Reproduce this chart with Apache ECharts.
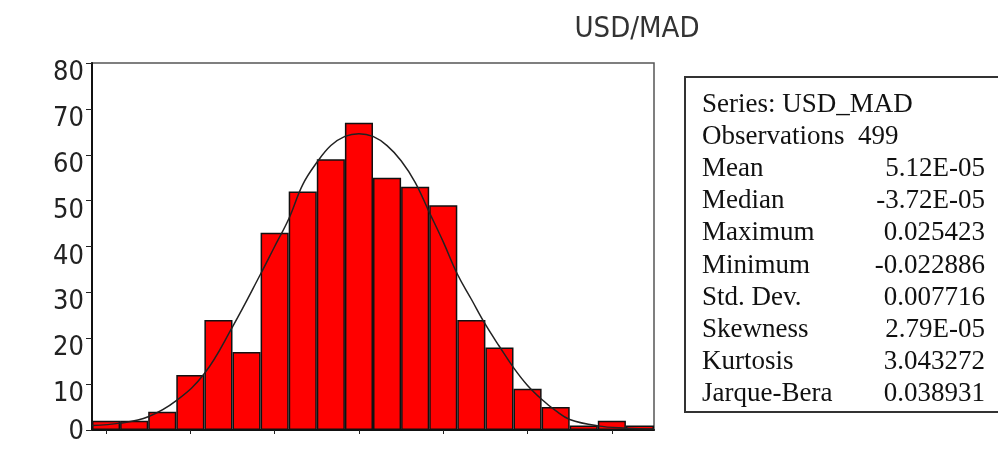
<!DOCTYPE html>
<html><head><meta charset="utf-8">
<script src="https://cdn.jsdelivr.net/npm/echarts@6/dist/echarts.min.js"></script>
<style>html,body{margin:0;padding:0;background:#fff}#c{width:998px;height:461px}</style>
</head><body><div id="c"></div>
<script>
// Histogram bins (bin centres of USD/MAD returns) and counts
const binCenters = ['-0.02375','-0.02125','-0.01875','-0.01625','-0.01375','-0.01125','-0.00875','-0.00625','-0.00375','-0.00125',
                    '0.00125','0.00375','0.00625','0.00875','0.01125','0.01375','0.01625','0.01875','0.02125','0.02375'];
const counts = [2,2,4,12,24,17,43,52,59,67,55,53,49,24,18,9,5,1,2,1];

// Fitted normal curve
const curveX = [-0.025,-0.0225,-0.02,-0.0175,-0.015,-0.0125,-0.01,-0.00875,-0.0075,-0.00625,-0.005,-0.00375,-0.0025,-0.00125,0,
                0.00125,0.0025,0.00375,0.005,0.00625,0.0075,0.00875,0.01,0.01125,0.0125,0.01375,0.015,0.01625,0.0175,0.02,0.0225,0.025];
const curveY = [1.0,1.5,2.9,6.4,12.3,22.5,34,40,46,53.5,58.3,62,64,64.6,64,
                62,58.7,54,47.5,41,34,28.5,23,18.2,13.6,9.7,6.7,4.2,2.3,0.9,0.4,0.2];

// Y tick range
const yMin = 0, yMax = 80, yStep = 10;

// Statistics panel
const chartTitle = 'USD/MAD';
const statLabels = ['Series: USD_MAD','Observations  499','Mean','Median','Maximum','Minimum','Std. Dev.','Skewness','Kurtosis','Jarque-Bera'];
const statValues = ['','','5.12E-05','-3.72E-05','0.025423','-0.022886','0.007716','2.79E-05','3.043272','0.038931'];

const sansNarrow = "'Liberation Sans Narrow','Arial Narrow','DejaVu Sans Condensed','Liberation Sans',sans-serif";
const serif = "'Liberation Serif','Times New Roman','DejaVu Serif',serif";

const chart = echarts.init(document.getElementById('c'), null, {renderer:'canvas'});

const graphics = [
  {type:'rect', shape:{x:685, y:77, width:400, height:335}, style:{fill:'#fff', stroke:'#333', lineWidth:2}, z:10}
];
statLabels.forEach((t,i)=>{
  graphics.push({type:'text', x:702, y:105+i*32.1, z:11,
    style:{text:t, fill:'#111', font:"27px "+serif, textAlign:'left', textVerticalAlign:'middle'}});
  if (statValues[i]) graphics.push({type:'text', x:985, y:105+i*32.1, z:11,
    style:{text:statValues[i], fill:'#111', font:"27px "+serif, textAlign:'right', textVerticalAlign:'middle'}});
});
graphics.push({type:'text', x:637, y:29, z:11,
  style:{text:chartTitle, fill:'#333', font:"29px "+sansNarrow, textAlign:'center', textVerticalAlign:'middle'}});

chart.setOption({
  animation:false,
  backgroundColor:'#fff',
  grid:{left:92, right:344, top:63, bottom:31, show:true, borderColor:'#555', borderWidth:1.5, containLabel:false},
  xAxis:[
    {type:'category', data:binCenters, boundaryGap:true,
     axisLine:{show:true, onZero:false, lineStyle:{color:'#111', width:2}},
     axisTick:{show:true, alignWithLabel:true, length:4, lineStyle:{color:'#222', width:1}},
     axisLabel:{show:false}, splitLine:{show:false}},
    {type:'value', min:-0.025, max:0.025, show:false, position:'bottom',
     axisLine:{show:false, onZero:false}, splitLine:{show:false}}
  ],
  yAxis:{type:'value', min:yMin, max:yMax, interval:yStep,
     axisLine:{show:true, onZero:false, lineStyle:{color:'#111', width:2}},
     axisTick:{show:true, inside:false, length:6, lineStyle:{color:'#222', width:1}},
     splitLine:{show:false},
     axisLabel:{margin:8, fontFamily:sansNarrow, fontSize:27, color:'#222',
       formatter:v=> v===0 ? '{z|'+v+'}' : '{n|'+v+'}',
       rich:{n:{fontFamily:sansNarrow, fontSize:27, color:'#222', padding:[20,0,0,0]},
             z:{fontFamily:sansNarrow, fontSize:27, color:'#222', padding:[4,0,0,0]}}}},
  series:[
    {type:'bar', xAxisIndex:0, data:counts, barCategoryGap:'0%',
     itemStyle:{color:'#ff0000', borderColor:'#111', borderWidth:1.5}},
    {type:'line', xAxisIndex:1, data:curveX.map((x,i)=>[x,curveY[i]]), smooth:0.4, symbol:'none',
     lineStyle:{color:'#222', width:1.5}, z:5}
  ],
  graphic:graphics
});
</script></body></html>
